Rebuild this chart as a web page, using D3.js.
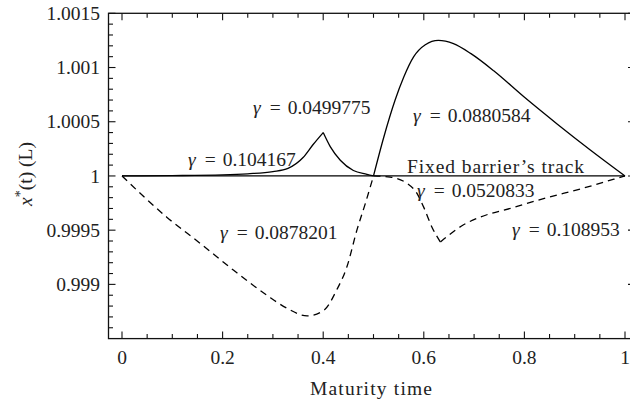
<!DOCTYPE html>
<html>
<head>
<meta charset="utf-8">
<script src="https://cdn.jsdelivr.net/npm/d3@7"></script>
<style>
  body { margin: 0; background: #fff; }
  svg text { font-family: "Liberation Serif", "Times New Roman", serif; fill: #222; }
</style>
</head>
<body>
<div id="chart"></div>
<script>
// solid curve, three pieces
var solidAT = [0, 0.1, 0.2, 0.25, 0.3, 0.33, 0.36, 0.38, 0.4];
var solidAV = [1, 1.000003, 1.00001, 1.00002, 1.00004, 1.00007, 1.00017, 1.00029, 1.0004];
var solidBT = [0.4, 0.414, 0.434, 0.46, 0.487, 0.5];
var solidBV = [1.0004, 1.00027, 1.000145, 1.00005, 1.000015, 1.0];
var solidCT = [0.5, 0.52, 0.543, 0.56, 0.58, 0.603, 0.629, 0.659, 0.693, 0.739, 0.799, 0.865, 0.931, 1.0];
var solidCV = [1.0, 1.00035, 1.0007, 1.00091, 1.0011, 1.00121, 1.00125, 1.00122, 1.00113, 1.00097, 1.00073, 1.00048, 1.00024, 1.0];
// dashed curve, three pieces
var dashAT = [0, 0.089, 0.155, 0.222, 0.288, 0.328, 0.368, 0.401, 0.427, 0.447, 0.467, 0.484, 0.5];
var dashAV = [1, 0.99962, 0.99938, 0.99913, 0.9989, 0.99878, 0.99871, 0.99876, 0.99895, 0.99916, 0.9995, 0.99975, 1.0];
var dashBT = [0.5, 0.533, 0.58, 0.6, 0.616, 0.633];
var dashBV = [1.0, 0.99999, 0.99988, 0.99971, 0.99953, 0.99939];
var dashCT = [0.633, 0.646, 0.679, 0.712, 0.779, 0.845, 0.911, 0.978, 1.0];
var dashCV = [0.99939, 0.99944, 0.99955, 0.99962, 0.99971, 0.9998, 0.99988, 0.99997, 1.0];
// fixed barrier
var barrierT = [0, 1];
var barrierV = [1, 1];

var xTicks = [0, 0.2, 0.4, 0.6, 0.8, 1];
var xTickLabels = ["0", "0.2", "0.4", "0.6", "0.8", "1"];
var yTicks = [0.999, 0.9995, 1, 1.0005, 1.001, 1.0015];
var yTickLabels = ["0.999", "0.9995", "1", "1.0005", "1.001", "1.0015"];

// annotations: text, t, value
var gammaNames = ["0.104167", "0.0499775", "0.0880584", "0.0520833", "0.108953", "0.0878201"];
var gammaT = [0.1312, 0.2604, 0.5785, 0.5865, 0.7753, 0.1948];
var gammaV = [1.000092, 1.000571, 1.000498, 0.99981, 0.999446, 0.999419];

var width = 630, height = 402;
var font = "'Liberation Serif', 'Times New Roman', serif";

var x = d3.scaleLinear().domain([0, 1]).range([122, 625]);
var y = d3.scaleLinear().domain([0.9985, 1.0015]).range([338.6, 13.3]);

var svg = d3.select("#chart").append("svg")
    .attr("width", width)
    .attr("height", height)
    .attr("font-family", font);

var frameL = 108.5, frameR = 635, frameT = y(1.0015), frameB = y(0.9985);

// minor tick values
var xMinor = d3.range(0, 21).map(function(i){ return i * 0.05; })
    .filter(function(d){ return Math.abs(d * 5 - Math.round(d * 5)) > 1e-6; });
var yMinor = d3.range(1, 30).map(function(i){ return 0.9985 + i * 0.0001; })
    .filter(function(d){ return Math.abs(d * 2000 - Math.round(d * 2000)) > 1e-6; });

var tickG = svg.append("g").attr("stroke", "#111").attr("stroke-width", 1.1);

function vtick(xs, y0, len) {
    tickG.selectAll(null).data(xs).enter().append("line")
        .attr("x1", function(d){ return x(d); })
        .attr("x2", function(d){ return x(d); })
        .attr("y1", y0).attr("y2", y0 + len);
}
function htick(ys, x0, len) {
    tickG.selectAll(null).data(ys).enter().append("line")
        .attr("y1", function(d){ return y(d); })
        .attr("y2", function(d){ return y(d); })
        .attr("x1", x0).attr("x2", x0 + len);
}
vtick(xTicks, frameB, -7);
vtick(xMinor, frameB, -4.5);
vtick(xTicks, frameT, 7);
vtick(xMinor, frameT, 4.5);
htick(yTicks, frameL, 7);
htick(yMinor, frameL, 4.5);
htick(yTicks, frameR, -7);
htick(yMinor, frameR, -4.5);

// frame
svg.append("rect")
    .attr("x", frameL).attr("y", frameT)
    .attr("width", frameR - frameL).attr("height", frameB - frameT)
    .attr("fill", "none").attr("stroke", "#111").attr("stroke-width", 1.3);

// tick labels
svg.selectAll(".xl").data(xTicks).enter().append("text")
    .attr("x", function(d){ return x(d); })
    .attr("y", 364)
    .attr("text-anchor", "middle")
    .attr("font-size", "19.5px")
    .text(function(d, i){ return xTickLabels[i]; });

svg.selectAll(".yl").data(yTicks).enter().append("text")
    .attr("x", 100)
    .attr("y", function(d){ return y(d) + 6.7; })
    .attr("text-anchor", "end")
    .attr("font-size", "19.5px")
    .text(function(d, i){ return yTickLabels[i]; });

// axis titles
svg.append("text")
    .attr("x", 310).attr("y", 395)
    .attr("font-size", "19.5px")
    .attr("textLength", 122)
    .attr("lengthAdjust", "spacing")
    .text("Maturity time");

var yt = svg.append("text")
    .attr("transform", "translate(32,174) rotate(-90)")
    .attr("text-anchor", "middle")
    .attr("font-size", "19.5px");
yt.append("tspan").style("font-style", "italic").text("x");
yt.append("tspan").attr("dy", -7).attr("font-size", "14px").text("*");
yt.append("tspan").attr("dy", 7).text("(t) (L)");

// curves
var line = d3.line()
    .x(function(d){ return x(d[0]); })
    .y(function(d){ return y(d[1]); })
    .curve(d3.curveMonotoneX);

function zip(ts, vs) { return ts.map(function(t, i){ return [t, vs[i]]; }); }

var solids = [zip(barrierT, barrierV), zip(solidAT, solidAV), zip(solidBT, solidBV), zip(solidCT, solidCV)];
var dashes = [zip(dashAT, dashAV), zip(dashBT, dashBV), zip(dashCT, dashCV)];

svg.selectAll(".solid").data(solids).enter().append("path")
    .attr("d", line)
    .attr("fill", "none")
    .attr("stroke", "#000")
    .attr("stroke-width", 1.3);

svg.selectAll(".dash").data(dashes).enter().append("path")
    .attr("d", line)
    .attr("fill", "none")
    .attr("stroke", "#000")
    .attr("stroke-width", 1.3)
    .attr("stroke-dasharray", "7,5");

// annotations
gammaNames.forEach(function(g, i) {
    var t = svg.append("text")
        .attr("x", x(gammaT[i]))
        .attr("y", y(gammaV[i]))
        .attr("font-size", "19.5px");
    t.append("tspan").style("font-style", "italic").text("γ");
    t.append("tspan").attr("dx", 9).text("=");
    t.append("tspan").attr("dx", 7).text(g);
});

svg.append("text")
    .attr("x", 407).attr("y", 172.5)
    .attr("font-size", "19.5px")
    .attr("textLength", 177)
    .attr("lengthAdjust", "spacing")
    .text("Fixed barrier\u2019s track");
</script>
</body>
</html>
